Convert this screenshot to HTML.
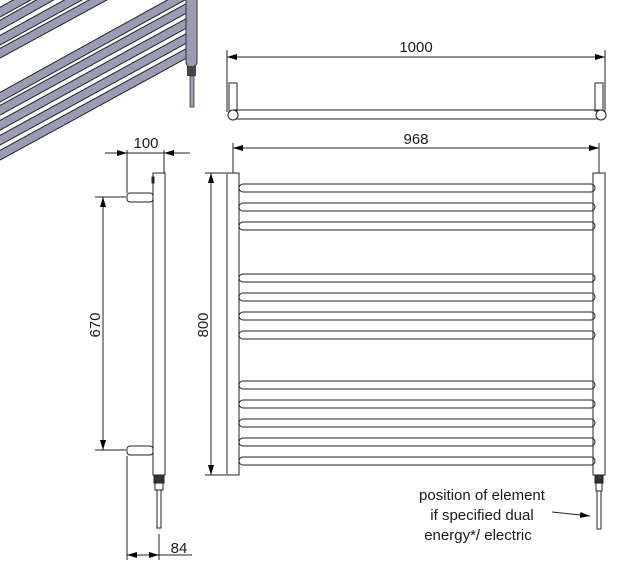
<!DOCTYPE html>
<html><head><style>
html,body{margin:0;padding:0;background:#fff;}
svg{display:block;}
text{font-family:"Liberation Sans",sans-serif;font-size:15px;fill:#1a1a1a;}
</style></head><body>
<svg width="622" height="571" viewBox="0 0 622 571" xmlns="http://www.w3.org/2000/svg">
<defs>
<marker id="a" viewBox="0 0 10 6" refX="10" refY="3" markerWidth="10" markerHeight="6" orient="auto-start-reverse" markerUnits="userSpaceOnUse"><path d="M0,0 L10,3 L0,6 z" fill="#000"/></marker>
</defs>
<g stroke-linecap="round">
<g stroke="#222" stroke-width="9.5">
<line x1="-5" y1="15" x2="40" y2="-10"/><line x1="-5" y1="28" x2="70" y2="-14"/><line x1="-5" y1="43" x2="95" y2="-12"/><line x1="-5" y1="56" x2="120" y2="-12"/>
<line x1="-5" y1="100" x2="187" y2="-6"/><line x1="-5" y1="113" x2="187" y2="8"/><line x1="-5" y1="128" x2="187" y2="23"/><line x1="-5" y1="143" x2="187" y2="38"/><line x1="-5" y1="158" x2="187" y2="53"/>
</g>
<g stroke="#9a9cb4" stroke-width="7.5">
<line x1="-5" y1="15" x2="40" y2="-10"/><line x1="-5" y1="28" x2="70" y2="-14"/><line x1="-5" y1="43" x2="95" y2="-12"/><line x1="-5" y1="56" x2="120" y2="-12"/>
<line x1="-5" y1="100" x2="187" y2="-6"/><line x1="-5" y1="113" x2="187" y2="8"/><line x1="-5" y1="128" x2="187" y2="23"/><line x1="-5" y1="143" x2="187" y2="38"/><line x1="-5" y1="158" x2="187" y2="53"/>
</g>
</g>
<rect x="186" y="-5" width="11" height="72" rx="5" fill="#9a9cb4" stroke="#333" stroke-width="1"/>
<rect x="187" y="66" width="9" height="10" fill="#444"/>
<rect x="190" y="76" width="4" height="31" fill="#9a9cb4" stroke="#333" stroke-width="0.8"/>

<g fill="none" stroke="#222" stroke-width="1">
<line x1="227" y1="50" x2="227" y2="112"/><line x1="605" y1="50" x2="605" y2="112"/>
<line x1="227" y1="57" x2="605" y2="57" marker-start="url(#a)" marker-end="url(#a)"/>
<rect x="229" y="83" width="8" height="28"/><rect x="595" y="83" width="8" height="28"/>
<line x1="233" y1="110" x2="601" y2="110"/><line x1="233" y1="119" x2="601" y2="119"/>
<circle cx="233" cy="115" r="5" fill="#fff"/><circle cx="601" cy="115" r="5" fill="#fff"/>
<line x1="233" y1="143" x2="233" y2="173"/><line x1="599" y1="143" x2="599" y2="173"/>
<line x1="233" y1="148" x2="599" y2="148" marker-start="url(#a)" marker-end="url(#a)"/>
<rect x="227" y="173" width="12" height="302"/>
<rect x="593" y="173" width="12" height="302"/>
<line x1="205" y1="173" x2="226" y2="173"/><line x1="205" y1="475" x2="226" y2="475"/>
<line x1="211" y1="173" x2="211" y2="475" marker-start="url(#a)" marker-end="url(#a)"/>
</g>
<g fill="#fff" stroke="#222" stroke-width="1">
<rect x="239" y="184" width="356" height="8" rx="4"/>
<rect x="239" y="203" width="356" height="8" rx="4"/>
<rect x="239" y="222" width="356" height="8" rx="4"/>
<rect x="239" y="274" width="356" height="8" rx="4"/>
<rect x="239" y="293" width="356" height="8" rx="4"/>
<rect x="239" y="312" width="356" height="8" rx="4"/>
<rect x="239" y="331" width="356" height="8" rx="4"/>
<rect x="239" y="381" width="356" height="8" rx="4"/>
<rect x="239" y="400" width="356" height="8" rx="4"/>
<rect x="239" y="419" width="356" height="8" rx="4"/>
<rect x="239" y="438" width="356" height="8" rx="4"/>
<rect x="239" y="457" width="356" height="8" rx="4"/>
</g>
<g fill="none" stroke="#222" stroke-width="1">
<line x1="239" y1="173" x2="239" y2="475"/><line x1="593" y1="173" x2="593" y2="475"/>
<rect x="595" y="475" width="8" height="8" fill="#333"/>
<rect x="596" y="483" width="6" height="8"/>
<rect x="597" y="491" width="4" height="38"/>
<line x1="552" y1="512" x2="590" y2="516" marker-end="url(#a)"/>
<rect x="153" y="173" width="12" height="302"/>
<rect x="152" y="177" width="2" height="6" fill="#222"/>
<rect x="127" y="193" width="26" height="9" rx="3" fill="#fff"/>
<rect x="127" y="446" width="26" height="9" rx="3" fill="#fff"/>
<rect x="154" y="475" width="10" height="8" fill="#333"/>
<rect x="155" y="483" width="8" height="7"/>
<rect x="157" y="490" width="4" height="38"/>
<line x1="127" y1="150" x2="127" y2="193"/><line x1="164" y1="150" x2="164" y2="173"/>
<line x1="105" y1="153" x2="127" y2="153" marker-end="url(#a)"/>
<line x1="190" y1="153" x2="164" y2="153" marker-end="url(#a)"/>
<line x1="127" y1="153" x2="164" y2="153"/>
<line x1="95" y1="197" x2="126" y2="197"/><line x1="95" y1="450" x2="126" y2="450"/>
<line x1="103" y1="197" x2="103" y2="450" marker-start="url(#a)" marker-end="url(#a)"/>
<line x1="127" y1="456" x2="127" y2="560"/><line x1="159" y1="534" x2="159" y2="560"/>
<line x1="127" y1="555" x2="159" y2="555" marker-start="url(#a)" marker-end="url(#a)"/>
<line x1="159" y1="555" x2="192" y2="555"/>
</g>
<text x="416" y="52" text-anchor="middle">1000</text>
<text x="416" y="144" text-anchor="middle">968</text>
<text x="146" y="148" text-anchor="middle">100</text>
<text x="179" y="553" text-anchor="middle">84</text>
<text transform="translate(100,325) rotate(-90)" text-anchor="middle">670</text>
<text transform="translate(208,325) rotate(-90)" text-anchor="middle">800</text>
<g style="font-size:16px">
<text x="482" y="500" text-anchor="middle">position of element</text>
<text x="482" y="520" text-anchor="middle">if specified dual</text>
<text x="478" y="540" text-anchor="middle">energy*/ electric</text>
</g>
</svg>
</body></html>
